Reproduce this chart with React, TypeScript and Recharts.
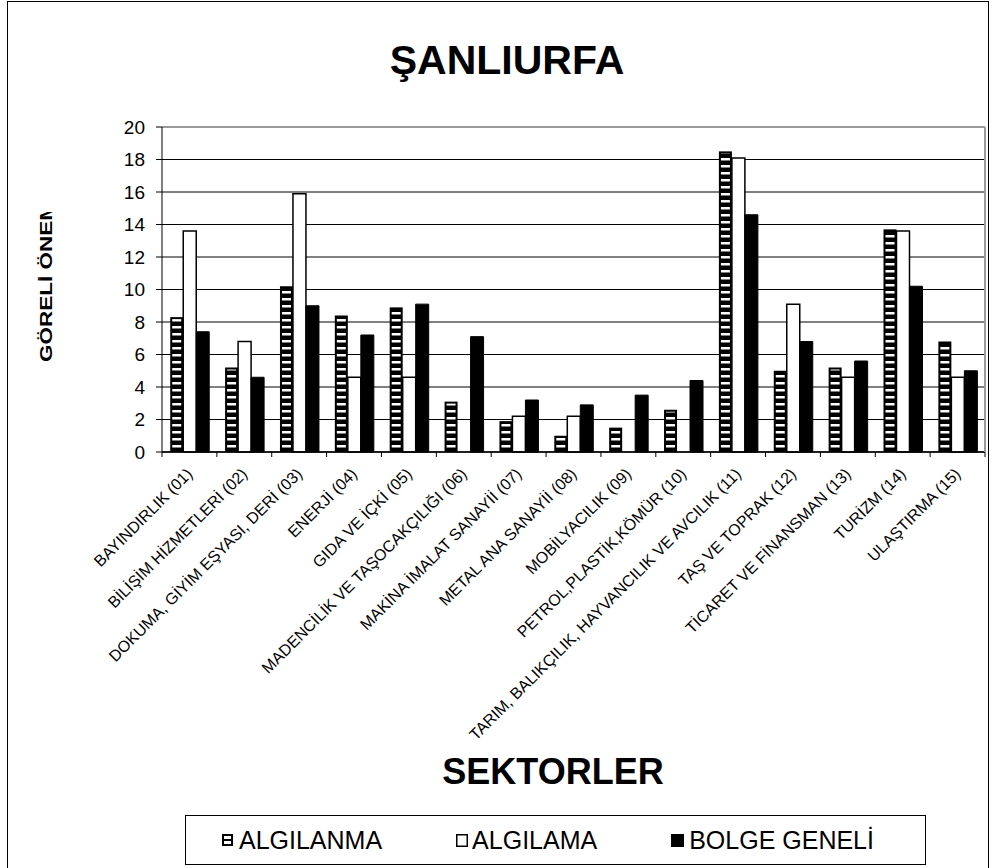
import { BarChart, Bar, XAxis, YAxis, CartesianGrid, ReferenceLine } from 'recharts';

const categories = [
  'BAYINDIRLIK (01)',
  'BİLİŞİM HİZMETLERİ (02)',
  'DOKUMA, GİYİM EŞYASI, DERİ (03)',
  'ENERJİ (04)',
  'GIDA VE İÇKİ (05)',
  'MADENCİLİK VE TAŞOCAKÇILIĞI (06)',
  'MAKİNA İMALAT SANAYİİ (07)',
  'METAL ANA SANAYİİ (08)',
  'MOBİLYACILIK (09)',
  'PETROL,PLASTİK,KÖMÜR (10)',
  'TARIM, BALIKÇILIK, HAYVANCILIK VE AVCILIK (11)',
  'TAŞ VE TOPRAK (12)',
  'TİCARET VE FİNANSMAN (13)',
  'TURİZM (14)',
  'ULAŞTIRMA (15)',
];

const algilanma = [8.3, 5.2, 10.2, 8.4, 8.9, 3.1, 1.9, 1.0, 1.5, 2.6, 18.5, 5.0, 5.2, 13.7, 6.8];
const algilama = [13.6, 6.8, 15.9, 4.6, 4.6, 0, 2.2, 2.2, 0, 0, 18.1, 9.1, 4.6, 13.6, 4.6];
const bolgeGeneli = [7.4, 4.6, 9.0, 7.2, 9.1, 7.1, 3.2, 2.9, 3.5, 4.4, 14.6, 6.8, 5.6, 10.2, 5.0];

const yTicks = [0, 2, 4, 6, 8, 10, 12, 14, 16, 18, 20];
const seriesNames = ['ALGILANMA', 'ALGILAMA', 'BOLGE GENELİ'];

const data = categories.map((name, i) => ({
  name,
  algilanma: algilanma[i],
  algilama: algilama[i],
  bolge: bolgeGeneli[i],
}));

const FONT = '"Liberation Sans", Arial, sans-serif';
const PLOT_LEFT = 162;
const PLOT_RIGHT = 985;
const BAND = (PLOT_RIGHT - PLOT_LEFT) / categories.length;

const StripedBar = (props: any) => {
  const { x, y, width, height } = props;
  if (!height || height <= 0) return null;
  return (
    <g>
      <rect x={x} y={y} width={width} height={height} fill="#000" />
      <rect x={x + 2} y={y + 2} width={Math.max(width - 4, 0)} height={Math.max(height - 2, 0)} fill="url(#stripes)" />
    </g>
  );
};

const XTick = (props: any) => {
  const { x, y, payload, index } = props;
  const ax = y;
  const tx = x + 4;
  const ty = y + 23;
  return (
    <g>
      <line x1={x - BAND / 2} x2={x - BAND / 2} y1={ax} y2={ax + 5} stroke="#000" />
      {index === categories.length - 1 && (
        <line x1={x + BAND / 2} x2={x + BAND / 2} y1={ax} y2={ax + 5} stroke="#000" />
      )}
      <text
        x={tx}
        y={ty}
        transform={`rotate(-45, ${tx}, ${ty})`}
        textAnchor="end"
        fontSize={16}
        fontFamily={FONT}
        fill="#000"
      >
        {payload.value}
      </text>
    </g>
  );
};

const LegendIcon = ({ kind }: { kind: number }) => {
  if (kind === 0) {
    return (
      <svg width={11} height={12} style={{ marginRight: 6 }}>
        <rect x={0} y={0} width={11} height={12} fill="#000" />
        <rect x={2} y={2} width={7} height={3} fill="#fff" />
        <rect x={2} y={7} width={7} height={3} fill="#fff" />
      </svg>
    );
  }
  if (kind === 1) {
    return (
      <svg width={12} height={13} style={{ marginRight: 4 }}>
        <rect x={0.75} y={0.75} width={10.5} height={11.5} fill="#fff" stroke="#000" strokeWidth={1.5} />
      </svg>
    );
  }
  return (
    <svg width={13} height={13} style={{ marginRight: 5 }}>
      <rect x={0} y={0} width={13} height={13} fill="#000" />
    </svg>
  );
};

export default function App() {
  return (
    <div
      style={{
        position: 'absolute',
        left: 0,
        top: 0,
        width: 992,
        height: 868,
        overflow: 'hidden',
        background: '#fff',
        fontFamily: FONT,
      }}
    >
      <div
        style={{
          position: 'absolute',
          left: 7,
          top: 1,
          width: 980,
          height: 900,
          border: '1.5px solid #000',
        }}
      />
      <div
        style={{
          position: 'absolute',
          left: 0,
          width: 1014,
          top: 40,
          textAlign: 'center',
          fontSize: 41,
          fontWeight: 'bold',
          lineHeight: 1,
        }}
      >
        ŞANLIURFA
      </div>
      <div style={{ position: 'absolute', left: 0, top: 0 }}>
        <BarChart
          width={992}
          height={868}
          data={data}
          margin={{ top: 127, right: 6, bottom: 116, left: 102 }}
          barCategoryGap="15%"
          barGap={0}
        >
          <defs>
            <pattern id="stripes" patternUnits="userSpaceOnUse" width={8} height={7}>
              <rect x={0} y={0} width={8} height={7} fill="#000" />
              <rect x={0} y={4} width={8} height={2.5} fill="#fff" />
            </pattern>
          </defs>
          <CartesianGrid vertical={false} stroke="#000" strokeWidth={1} />
          <ReferenceLine y={20} stroke="#9a9a9a" strokeWidth={2} />
          <XAxis
            dataKey="name"
            interval={0}
            height={300}
            tickLine={false}
            tickSize={0}
            tickMargin={0}
            axisLine={{ stroke: '#000', strokeWidth: 1.5 }}
            tick={<XTick />}
          />
          <YAxis
            domain={[0, 20]}
            ticks={yTicks}
            width={60}
            tickSize={6}
            tickMargin={11}
            axisLine={{ stroke: '#000', strokeWidth: 1 }}
            tickLine={{ stroke: '#000' }}
            tick={{ fill: '#000', fontSize: 19, fontFamily: FONT }}
            interval={0}
          />
          <YAxis
            yAxisId="r"
            orientation="right"
            width={1}
            domain={[0, 20]}
            tick={false}
            tickLine={false}
            axisLine={{ stroke: '#9a9a9a', strokeWidth: 2 }}
          />
          <Bar dataKey="algilanma" name={seriesNames[0]} shape={<StripedBar />} isAnimationActive={false} />
          <Bar dataKey="algilama" name={seriesNames[1]} fill="#fff" stroke="#000" strokeWidth={1.5} isAnimationActive={false} />
          <Bar dataKey="bolge" name={seriesNames[2]} fill="#000" stroke="#000" strokeWidth={1} isAnimationActive={false} />
        </BarChart>
      </div>
      <svg width={992} height={868} style={{ position: 'absolute', left: 0, top: 0, pointerEvents: 'none' }}>
        <defs>
          <clipPath id="ylabclip">
            <rect x={0} y={212} width={120} height={300} />
          </clipPath>
        </defs>
        <g clipPath="url(#ylabclip)">
          <text
            transform="translate(52,362) rotate(-90)"
            fontSize={16}
            fontWeight="bold"
            fontFamily={FONT}
            textLength={160}
            lengthAdjust="spacingAndGlyphs"
          >
            GÖRELİ ÖNEM
          </text>
        </g>
      </svg>
      <div
        style={{
          position: 'absolute',
          left: 0,
          width: 1106,
          top: 754,
          textAlign: 'center',
          fontSize: 36,
          fontWeight: 'bold',
          lineHeight: 1,
        }}
      >
        SEKTORLER
      </div>
      <div
        style={{
          position: 'absolute',
          left: 185,
          top: 815,
          width: 741,
          height: 50,
          boxSizing: 'border-box',
          border: '1.5px solid #000',
          display: 'flex',
          alignItems: 'center',
          paddingLeft: 36,
          gap: 74,
          fontSize: 25,
        }}
      >
        {seriesNames.map((n, i) => (
          <div key={n} style={{ display: 'flex', alignItems: 'center' }}>
            <LegendIcon kind={i} />
            <span>{n}</span>
          </div>
        ))}
      </div>
    </div>
  );
}
